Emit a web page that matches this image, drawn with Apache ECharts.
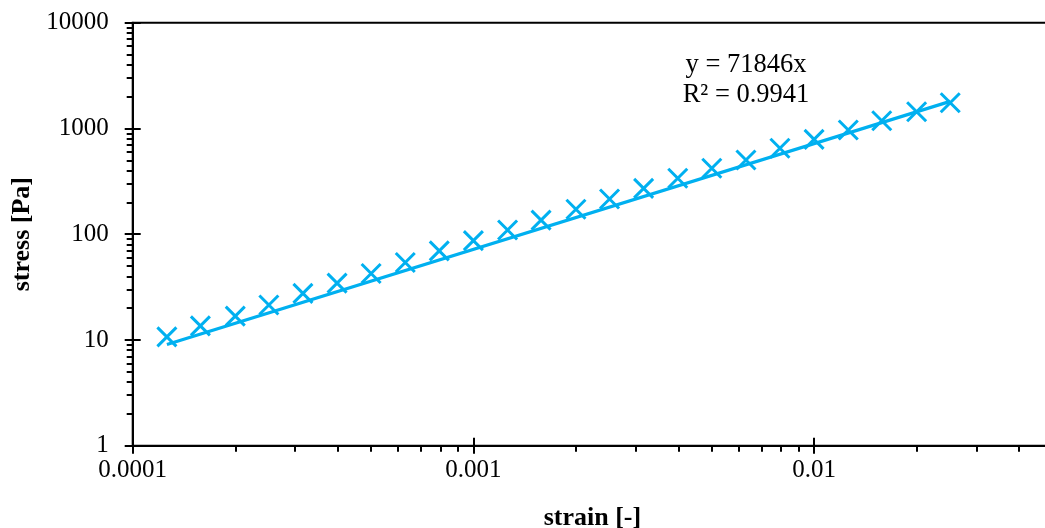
<!DOCTYPE html>
<html><head><meta charset="utf-8">
<script src="https://cdn.jsdelivr.net/npm/echarts@6/dist/echarts.min.js"></script>
<style>html,body{margin:0;padding:0;background:#fff}#c{width:1045px;height:528px}</style>
</head><body><div id="c"></div>
<script>
// ---- data ----
const strain = [0.000126, 0.000158, 0.0002, 0.000251, 0.000316, 0.000398, 0.000501, 0.000631, 0.000794, 0.001,
  0.00126, 0.00158, 0.002, 0.00251, 0.00316, 0.00398, 0.00501, 0.00631, 0.00794, 0.01,
  0.0126, 0.0158, 0.02, 0.0251];
const stress = [10.7, 13.6, 16.8, 21.4, 27.6, 34.5, 42.5, 54, 69.5, 87,
  109.6, 136, 172, 215, 271, 338, 420, 503, 649, 789,
  967, 1184, 1439, 1752];
const trendSlope = 71846;
const trendR2 = '0.9941';
const xTickValues = [0.0001, 0.001, 0.01];
const xTickLabels = ['0.0001', '0.001', '0.01'];
const xMinorTicks = [0.0002, 0.0003, 0.0004, 0.0005, 0.0006, 0.0007, 0.0008, 0.0009,
  0.002, 0.003, 0.004, 0.005, 0.006, 0.007, 0.008, 0.009,
  0.02, 0.03, 0.04];
const yTickValues = [1, 10, 100, 1000, 10000];
const yTickLabels = ['1', '10', '100', '1000', '10000'];
const yMinorTicks = [2, 3, 4, 5, 6, 7, 8, 9, 20, 30, 40, 50, 60, 70, 80, 90,
  200, 300, 400, 500, 600, 700, 800, 900, 2000, 3000, 4000, 5000, 6000, 7000, 8000, 9000];

// ---- chart ----
const FONT = 'Liberation Serif, Times New Roman, serif';
const BLUE = '#00B0F0';
const X_MIN = 0.0001, X_MAX = 0.05, Y_MIN = 1, Y_MAX = 10000;

function lookup(values, labels) {
  return function (v) {
    const i = values.findIndex(t => Math.abs(Math.log10(t) - Math.log10(v)) < 1e-6);
    return i >= 0 ? labels[i] : '';
  };
}

const black = { color: '#000', width: 2 };
const baseX = { type: 'log', min: X_MIN, max: X_MAX, gridIndex: 0, position: 'bottom', splitLine: { show: false } };
const baseY = { type: 'log', min: Y_MIN, max: Y_MAX, gridIndex: 0, position: 'left', splitLine: { show: false } };

const trend = [
  [strain[0], trendSlope * strain[0]],
  [strain[strain.length - 1], trendSlope * strain[strain.length - 1]]
];

const option = {
  animation: false,
  backgroundColor: '#fff',
  grid: {
    left: 132.7, right: -7.2, top: 22.7, bottom: 82.3,
    show: true, borderColor: '#000', borderWidth: 2,
    containLabel: false, outerBoundsMode: 'none'
  },
  xAxis: [
    Object.assign({}, baseX, {
      axisLine: { show: true, onZero: false, lineStyle: black },
      axisTick: { show: true, inside: false, length: 8, lineStyle: black },
      axisLabel: { formatter: lookup(xTickValues, xTickLabels), fontFamily: FONT, fontSize: 25, color: '#000', margin: 12, showMaxLabel: true },
      name: 'strain [-]', nameLocation: 'middle', nameGap: 60,
      nameTextStyle: { fontFamily: FONT, fontWeight: 'bold', fontSize: 26, color: '#000' }
    }),
    Object.assign({}, baseX, {
      axisLine: { show: false, onZero: false },
      axisTick: { show: true, inside: true, length: 8, lineStyle: black },
      axisLabel: { show: false }
    }),
    Object.assign({}, baseX, {
      axisLine: { show: false, onZero: false },
      axisTick: { show: true, inside: false, length: 6, customValues: xMinorTicks, lineStyle: black },
      axisLabel: { show: false }
    })
  ],
  yAxis: [
    Object.assign({}, baseY, {
      axisLine: { show: true, onZero: false, lineStyle: black },
      axisTick: { show: true, inside: false, length: 8, lineStyle: black },
      axisLabel: { formatter: lookup(yTickValues, yTickLabels), fontFamily: FONT, fontSize: 25, color: '#000', margin: 24 },
      name: 'stress [Pa]', nameLocation: 'middle', nameGap: 96, nameRotate: 90,
      nameTextStyle: { fontFamily: FONT, fontWeight: 'bold', fontSize: 26, color: '#000' }
    }),
    Object.assign({}, baseY, {
      axisLine: { show: false, onZero: false },
      axisTick: { show: true, inside: true, length: 8, lineStyle: black },
      axisLabel: { show: false }
    }),
    Object.assign({}, baseY, {
      axisLine: { show: false, onZero: false },
      axisTick: { show: true, inside: false, length: 6, customValues: yMinorTicks, lineStyle: black },
      axisLabel: { show: false }
    })
  ],
  series: [
    {
      type: 'line', xAxisIndex: 0, yAxisIndex: 0, data: trend,
      showSymbol: false, symbol: 'none', lineStyle: { color: BLUE, width: 3.2 }, z: 3
    },
    {
      type: 'scatter', xAxisIndex: 0, yAxisIndex: 0,
      data: strain.map((s, i) => [s, stress[i]]),
      symbol: 'path://M0,0L10,10M10,0L0,10', symbolSize: 19,
      itemStyle: { color: BLUE, borderColor: BLUE, borderWidth: 3, opacity: 1 }, z: 4
    }
  ],
  graphic: [
    {
      type: 'text', x: 746, y: 80, z: 10,
      style: {
        text: 'y = ' + trendSlope + 'x\nR² = ' + trendR2,
        font: '26.5px ' + FONT, fill: '#000', textAlign: 'center', textVerticalAlign: 'middle', lineHeight: 30
      }
    }
  ]
};

echarts.init(document.getElementById('c'), null, { renderer: 'canvas' }).setOption(option);
</script>
</body></html>
